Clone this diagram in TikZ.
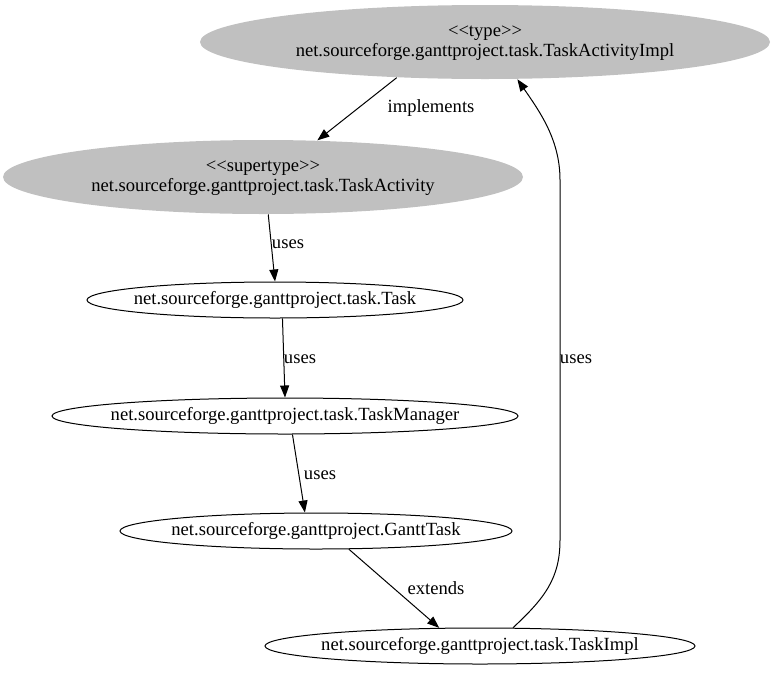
\documentclass[tikz,border=0pt]{standalone}
\usepackage{fontspec}
\setmainfont{Liberation Serif}[Ligatures=TeXOff]
\usetikzlibrary{shapes.geometric,arrows.meta}
\definecolor{gvgrey}{HTML}{C0C0C0}
\newcommand{\zwtext}[1]{\makebox[0pt][c]{\begin{tabular}{@{}c@{}}#1\end{tabular}}}
\begin{document}
\begin{tikzpicture}[x=1pt,y=-1pt,
  cls/.style={ellipse,draw=black,line width=1pt,inner sep=0pt,font=\fontsize{18.6}{20}\selectfont},
  stereo/.style={cls,draw=none,fill=gvgrey},
  edge/.style={draw=black,line width=1pt,-{Triangle[length=12pt,width=9pt]}},
  lbl/.style={font=\fontsize{18.6}{20}\selectfont,inner sep=0pt}]
\useasboundingbox (0,0) rectangle (773,675);
\node[stereo,minimum width=570,minimum height=74] (impl) at (485,42) {\zwtext{<<type>>\\net.sourceforge.ganttproject.task.TaskActivityImpl}};
\node[stereo,minimum width=520,minimum height=74] (act) at (263,177) {\zwtext{<<supertype>>\\net.sourceforge.ganttproject.task.TaskActivity}};
\node[cls,minimum width=376,minimum height=36] (task) at (275,300) {\zwtext{net.sourceforge.ganttproject.task.Task}};
\node[cls,minimum width=466,minimum height=36] (mgr) at (285,416) {\zwtext{net.sourceforge.ganttproject.task.TaskManager}};
\node[cls,minimum width=392,minimum height=36] (gantt) at (316,531) {\zwtext{net.sourceforge.ganttproject.GanttTask}};
\node[cls,minimum width=430,minimum height=36] (timpl) at (480,646) {\zwtext{net.sourceforge.ganttproject.task.TaskImpl}};
\draw[edge] (impl.202.4) -- (act.34.9);
\node[lbl] (limpl) at (431,108) {implements};
\draw[edge] (act.-82.3) -- (task.90);
\node[lbl] (lu1) at (288,244) {uses};
\draw[edge] (task.-68.7) -- (mgr.90);
\node[lbl] (lu2) at (300,359) {uses};
\draw[edge] (mgr.-68.7) -- (gantt.121.4);
\node[lbl] (lu3) at (320,475) {uses};
\draw[edge] (gantt.-29.4) -- (timpl.156.4);
\node[lbl] (lext) at (436,588) {extends};
\draw[edge] (timpl.29.5) .. controls (545,598) and (560,578) .. (560,540) -- (560,180) .. controls (560,140) and (540,112) .. (impl.-49);
\node[lbl] (lu4) at (576,359) {uses};
\end{tikzpicture}
\end{document}
